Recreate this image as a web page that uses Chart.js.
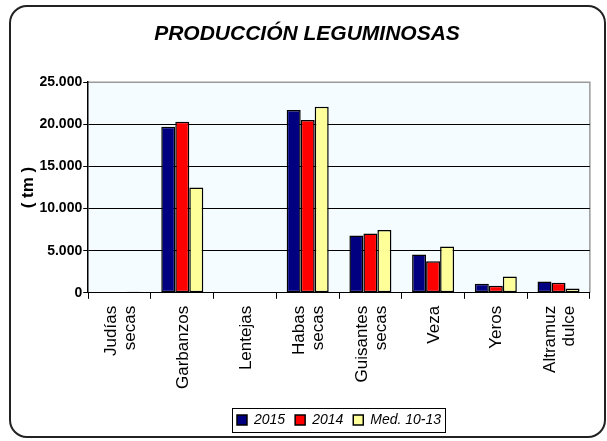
<!DOCTYPE html>
<html>
<head>
<meta charset="utf-8">
<script src="https://cdn.jsdelivr.net/npm/chart.js@4"></script>
<style>
  body { margin: 0; background: #fff; }
  #wrap { position: relative; width: 607px; height: 441px; }
  #frame {
    position: absolute; left: 9px; top: 5px; width: 593px; height: 429px;
    border: 2px solid #222; border-radius: 18px; pointer-events: none;
  }
</style>
</head>
<body>
<div id="wrap">
  <canvas id="prodChart" width="607" height="441"></canvas>
  <div id="frame"></div>
</div>
<script>
const categories = [['Judías', 'secas'], 'Garbanzos', 'Lentejas', ['Habas', 'secas'],
    ['Guisantes', 'secas'], 'Veza', 'Yeros', ['Altramuz', 'dulce']];
const seriesNames = ['2015', '2014', 'Med. 10-13'];
const values2015 = [30, 19700, 40, 21700, 6800, 4550, 1070, 1350];
const values2014 = [60, 20300, 40, 20500, 7050, 3750, 850, 1200];
const valuesMed = [140, 12500, 50, 22100, 7450, 5500, 1950, 520];
const yTicks = [0, 5000, 10000, 15000, 20000, 25000];

Chart.defaults.font.family = "'Liberation Sans', Arial, sans-serif";
Chart.defaults.color = '#000';

const labelFont = 17;
const labelLine = 19;

// miles con punto
const fmt = v => String(v).replace(/\B(?=(\d{3})+(?!\d))/g, '.');

const plotBg = {
    id: 'plotBg',
    beforeDraw(chart) {
        const { ctx, chartArea: a } = chart;
        ctx.save();
        ctx.fillStyle = '#F4FCFF';
        ctx.fillRect(a.left, a.top, a.right - a.left, a.bottom - a.top);
        ctx.strokeStyle = '#9a9a9a';
        ctx.lineWidth = 1.5;
        ctx.beginPath();
        ctx.moveTo(a.left, a.top);
        ctx.lineTo(a.right, a.top);
        ctx.lineTo(a.right, a.bottom);
        ctx.stroke();
        ctx.restore();
    },
    afterDraw(chart) {
        const ctx = chart.ctx;
        // etiquetas del eje x, centradas aunque tengan dos líneas
        const xs = chart.scales.x;
        ctx.save();
        ctx.fillStyle = '#000';
        ctx.font = labelFont + "px 'Liberation Sans', Arial, sans-serif";
        ctx.textAlign = 'right';
        ctx.textBaseline = 'middle';
        categories.forEach((lab, i) => {
            const lines = Array.isArray(lab) ? lab : [lab];
            const cx = xs.getPixelForValue(i) + 1;
            const top = xs.top + 13;
            lines.forEach((ln, j) => {
                const x = cx + (j - (lines.length - 1) / 2) * labelLine;
                ctx.save();
                ctx.translate(x, top);
                ctx.rotate(-Math.PI / 2);
                ctx.fillText(ln, 0, 0);
                ctx.restore();
            });
        });
        ctx.restore();

        // caja de la leyenda
        const boxes = chart.legend.legendHitBoxes;
        if (!boxes || !boxes.length) return;
        const left = Math.min(...boxes.map(b => b.left)) - 5;
        const right = Math.max(...boxes.map(b => b.left + b.width)) + 4;
        const top = Math.min(...boxes.map(b => b.top)) - 5;
        const bottom = Math.max(...boxes.map(b => b.top + b.height)) + 5;
        ctx.save();
        ctx.strokeStyle = '#000';
        ctx.lineWidth = 1;
        ctx.strokeRect(Math.round(left) + 0.5, Math.round(top) + 0.5, Math.round(right - left), Math.round(bottom - top));
        ctx.restore();
    }
};

const ctx = document.getElementById('prodChart').getContext('2d');
new Chart(ctx, {
    type: 'bar',
    data: {
        labels: categories,
        datasets: [
            { label: seriesNames[0], data: values2015, backgroundColor: '#000080' },
            { label: seriesNames[1], data: values2014, backgroundColor: '#FF0000' },
            { label: seriesNames[2], data: valuesMed, backgroundColor: '#FFFF99' }
        ].map(d => Object.assign(d, { borderColor: '#000', borderWidth: 1.5, borderSkipped: false }))
    },
    options: {
        responsive: false,
        animation: false,
        layout: { padding: { left: 18, right: 11, top: 18, bottom: 4 } },
        datasets: { bar: { categoryPercentage: 0.67, barPercentage: 1 } },
        plugins: {
            title: {
                display: true,
                text: 'PRODUCCIÓN LEGUMINOSAS',
                font: { size: 21, weight: 'bold', style: 'italic' },
                padding: { top: 4, bottom: 35 }
            },
            legend: {
                position: 'bottom',
                fullSize: false,
                labels: {
                    boxWidth: 10,
                    boxHeight: 10,
                    padding: 10,
                    font: { size: 14, style: 'italic' }
                }
            },
            tooltip: { enabled: false }
        },
        scales: {
            x: {
                grid: { drawOnChartArea: false, drawTicks: true, tickLength: 6, color: '#000', offset: true },
                border: { color: '#000', width: 1 },
                // etiquetas transparentes: reservan el espacio, se dibujan en el plugin
                ticks: { maxRotation: 90, minRotation: 90, padding: 7, color: 'rgba(0,0,0,0)', font: { size: labelFont } },
                afterFit: axis => { axis.height += 7; }
            },
            y: {
                min: 0,
                max: 25000,
                afterBuildTicks: axis => { axis.ticks = yTicks.map(v => ({ value: v })); },
                grid: {
                    color: c => c.tick && c.tick.value === 25000 ? '#9a9a9a' : '#000',
                    tickColor: '#000',
                    tickLength: 5
                },
                border: { color: '#000', width: 1.5 },
                ticks: { padding: 1, font: { size: 14, weight: 'bold' }, callback: v => fmt(v) },
                title: {
                    display: true,
                    text: '( tm )',
                    font: { size: 17, weight: 'bold' },
                    padding: { top: 0, bottom: 0 }
                }
            }
        }
    },
    plugins: [plotBg]
});
</script>
</body>
</html>
